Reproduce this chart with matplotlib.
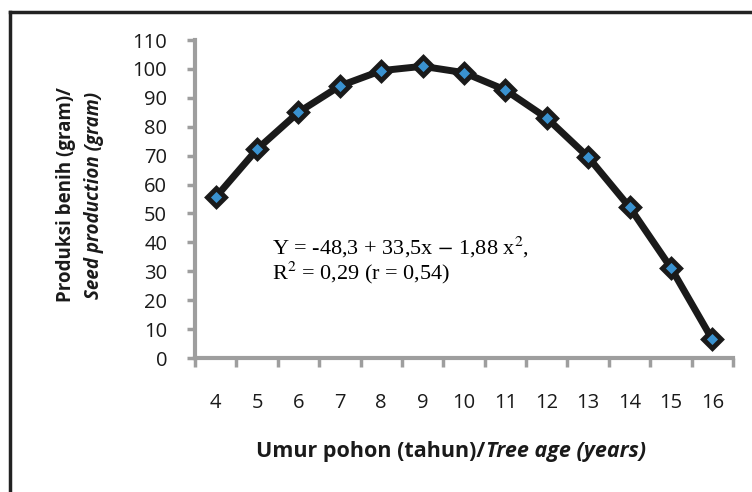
import matplotlib
matplotlib.use("Agg")
import matplotlib.pyplot as plt
from matplotlib.lines import Line2D

ages = [4, 5, 6, 7, 8, 9, 10, 11, 12, 13, 14, 15, 16]
production = [55.6, 72.2, 85.0, 94.1, 99.4, 100.9, 98.7, 92.7, 83.0, 69.5, 52.2, 31.2, 6.4]
yticks = list(range(0, 111, 10))

fig = plt.figure(figsize=(7.52, 4.92), dpi=100)
ax = fig.add_axes([195/752, 1-358/492, (733-195)/752, (358-40)/492])

pos = list(range(len(ages)))
ax.plot(pos, production, color="#1a1a1a", lw=5, marker="D", ms=9,
        mfc="#3a92d0", mec="#1a1a1a", mew=3.5, solid_joinstyle="round", zorder=3)

ax.set_xlim(-0.5, len(ages) - 0.5)
ax.set_ylim(0, 110)
ax.set_yticks(yticks)
ax.set_yticklabels([str(v) for v in yticks])
ax.set_xticks(pos)
ax.set_xticklabels([str(a) for a in ages])
ax.set_xticks([p - 0.5 for p in pos] + [len(ages) - 0.5], minor=True)
ax.tick_params(axis="x", which="major", length=0, pad=25)
ax.tick_params(axis="x", which="minor", length=6.5, width=2.5, color="#9e9e9e", direction="out")
ax.tick_params(axis="y", length=6, width=2.5, color="#9e9e9e", direction="out", pad=14)
for lab in ax.get_xticklabels() + ax.get_yticklabels():
    lab.set_fontfamily("Open Sans")
    lab.set_fontsize(14.5)
    lab.set_color("#1a1a1a")
for s in ["top", "right"]:
    ax.spines[s].set_visible(False)
for s in ["left", "bottom"]:
    ax.spines[s].set_color("#9e9e9e")
    ax.spines[s].set_linewidth(3)

# equation
fig.text(272/752, 1-247/492, r"Y = -48,3 + 33,5x $-$ 1,88 x$^2$,",
         fontsize=16, family="Liberation Serif", va="center", ha="left", math_fontfamily="stix")
fig.text(272/752, 1-273/492, r"R$^2$ = 0,29 (r = 0,54)",
         fontsize=16, family="Liberation Serif", va="center", ha="left", math_fontfamily="stix")

# y label
fig.text(66/752, 1-195/492, "Produksi benih (gram)/", rotation=90, fontsize=13.5,
         family="Open Sans", weight="bold", ha="center", va="center", color="#1a1a1a")
fig.text(94/752, 1-195/492, "Seed production (gram)", rotation=90, fontsize=13.5,
         family="Open Sans", weight="bold", style="italic", ha="center", va="center", color="#1a1a1a")

# x label (two styles)
fig.canvas.draw()
r = fig.canvas.get_renderer()
t1 = fig.text(0, 1-452/492, "Umur pohon (tahun)/", fontsize=15.5, family="Open Sans",
              weight="bold", ha="left", va="center", color="#1a1a1a")
t2 = fig.text(0, 1-452/492, "Tree age (years)", fontsize=15.5, family="Open Sans",
              weight="bold", style="italic", ha="left", va="center", color="#1a1a1a")
w1 = t1.get_window_extent(r).width
w2 = t2.get_window_extent(r).width
start = 451 - (w1 + w2) / 2
t1.set_x(start / 752)
t2.set_x((start + w1) / 752)

# frame
fig.add_artist(Line2D([10/752, 1], [1-12/492, 1-12/492], color="#222222", lw=2.5))
fig.add_artist(Line2D([10/752, 10/752], [0, 1-12/492], color="#222222", lw=2.5))

fig.savefig("out.png", dpi=100)
